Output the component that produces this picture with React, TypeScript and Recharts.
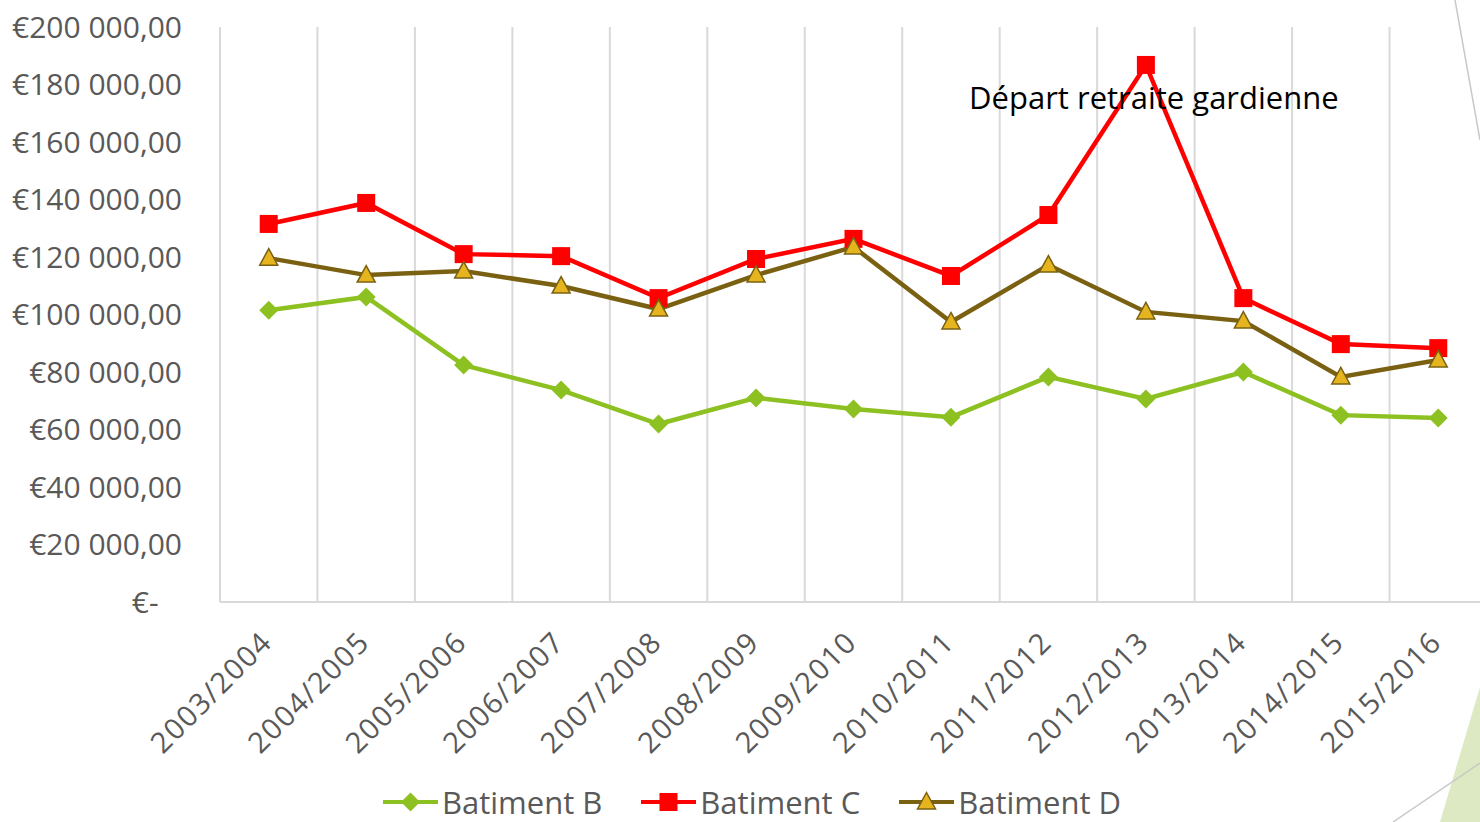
import React from "react";
import {
  LineChart,
  Line,
  XAxis,
  YAxis,
  CartesianGrid,
  Legend,
  ReferenceDot,
} from "recharts";

const categories = [
  "2003/2004", "2004/2005", "2005/2006", "2006/2007", "2007/2008",
  "2008/2009", "2009/2010", "2010/2011", "2011/2012", "2012/2013",
  "2013/2014", "2014/2015", "2015/2016",
];

const batimentB = [101500, 106100, 82400, 73700, 61900, 71000, 67100, 64300, 78300, 70600, 80000, 65000, 64000];
const batimentC = [131500, 138800, 121000, 120300, 105700, 119300, 126300, 113400, 134600, 186800, 105700, 89700, 88300];
const batimentD = [119600, 113700, 115100, 109900, 101900, 113700, 123500, 97400, 117200, 100900, 97700, 78300, 84200];

const yTicks = [0, 20000, 40000, 60000, 80000, 100000, 120000, 140000, 160000, 180000, 200000];

const annotation = { periode: "2012/2013", value: 175500, text: "Départ retraite gardienne" };

const series = [
  { key: "Batiment B", values: batimentB, color: "#8dc021", shape: "diamond" },
  { key: "Batiment C", values: batimentC, color: "#ff0000", shape: "square" },
  { key: "Batiment D", values: batimentD, color: "#7a6112", shape: "triangle" },
];

const data = categories.map((periode, i) => {
  const row: any = { periode };
  series.forEach(s => { row[s.key] = s.values[i]; });
  return row;
});

const FONT = "'Open Sans', sans-serif";
const GREY_TEXT = "#595959";

const formatEuro = (v: number) => {
  if (v === 0) return "€-\u00a0\u00a0\u00a0";
  const th = Math.floor(v / 1000);
  const rest = String(v % 1000).padStart(3, "0");
  return `€${th} ${rest},00`;
};

// markers drawn like the Excel ones
const Marker = ({ cx, cy, shape }: { cx: number; cy: number; shape: string }) => {
  if (shape === "diamond") {
    return <path d={`M${cx},${cy - 9.5} L${cx + 9.5},${cy} L${cx},${cy + 9.5} L${cx - 9.5},${cy} Z`} fill="#8dc021" />;
  }
  if (shape === "square") {
    return <rect x={cx - 9} y={cy - 9} width={18} height={18} fill="#ff0000" />;
  }
  return (
    <path
      d={`M${cx},${cy - 9.5} L${cx + 9},${cy + 7} L${cx - 9},${cy + 7} Z`}
      fill="#e5b41f"
      stroke="#7a6112"
      strokeWidth={1.5}
    />
  );
};

const XTick = ({ x, y, payload }: any) => {
  const bx = x + 5;
  const by = y + 42;
  return (
    <text
      x={bx}
      y={by}
      textAnchor="end"
      transform={`rotate(-45 ${bx} ${by})`}
      fontSize={29}
      letterSpacing={1.5}
      fontFamily={FONT}
      fill={GREY_TEXT}
    >
      {payload.value}
    </text>
  );
};

const renderLegend = () => (
  <div
    style={{
      display: "flex",
      justifyContent: "center",
      alignItems: "center",
      gap: 39,
      fontFamily: FONT,
      fontSize: 31,
      color: GREY_TEXT,
      height: 40,
    }}
  >
    {series.map(s => (
      <div key={s.key} style={{ display: "flex", alignItems: "center", gap: 4 }}>
        <svg width={55} height={24}>
          <line x1={0} y1={12} x2={55} y2={12} stroke={s.color} strokeWidth={4} />
          <Marker cx={27.5} cy={12} shape={s.shape} />
        </svg>
        <span>{s.key}</span>
      </div>
    ))}
  </div>
);

export default function App() {
  return (
    <div
      style={{
        position: "fixed",
        left: 0,
        top: 0,
        width: 1480,
        height: 822,
        overflow: "hidden",
        background: "#fff",
        fontFamily: FONT,
      }}
    >
      <LineChart
        width={1500}
        height={822}
        data={data}
        margin={{ top: 27, right: 13, left: 0, bottom: 0 }}
      >
        <CartesianGrid
          horizontal={false}
          stroke="#d9d9d9"
          strokeWidth={2}
          verticalCoordinatesGenerator={({ offset }: any) =>
            Array.from({ length: categories.length + 1 }, (_, i) => offset.left + (i * offset.width) / categories.length)
          }
        />
        <XAxis
          dataKey="periode"
          scale="band"
          height={220}
          interval={0}
          tickLine={false}
          tickSize={0}
          tickMargin={0}
          axisLine={{ stroke: "#d9d9d9", strokeWidth: 2 }}
          tick={<XTick />}
        />
        <YAxis
          width={220}
          domain={[0, 200000]}
          ticks={yTicks}
          axisLine={false}
          tickLine={false}
          tickSize={0}
          tickMargin={38}
          tickFormatter={formatEuro}
          tick={{ fontSize: 30, fill: GREY_TEXT, fontFamily: FONT }}
        />
        <Legend
          verticalAlign="middle"
          align="center"
          layout="horizontal"
          wrapperStyle={{ top: 782, left: 0, width: 1504, height: 40 }}
          content={renderLegend}
        />
        {series.map(s => (
          <Line
            key={s.key}
            dataKey={s.key}
            stroke={s.color}
            strokeWidth={4.5}
            isAnimationActive={false}
            activeDot={false}
            dot={(p: any) => <Marker key={`${s.key}-${p.index}`} cx={p.cx} cy={p.cy} shape={s.shape} />}
          />
        ))}
        <ReferenceDot
          x={annotation.periode}
          y={annotation.value}
          r={0}
          fill="none"
          stroke="none"
          label={(p: any) => (
            <text
              x={p.viewBox.x + 8}
              y={p.viewBox.y}
              textAnchor="middle"
              dominantBaseline="central"
              fontSize={31}
              fontFamily={FONT}
              fill="#000"
            >
              {annotation.text}
            </text>
          )}
        />
      </LineChart>
      <svg
        width={1480}
        height={822}
        style={{ position: "absolute", left: 0, top: 0, pointerEvents: "none" }}
      >
        <line x1={1455} y1={0} x2={1480} y2={140} stroke="#c8c8c8" strokeWidth={1.5} />
        <polygon points="1480,687 1440,822 1480,822" fill="#dce9c2" />
        <line x1={1393} y1={822} x2={1480} y2={763} stroke="#c8c8c8" strokeWidth={1.5} />
      </svg>
    </div>
  );
}
